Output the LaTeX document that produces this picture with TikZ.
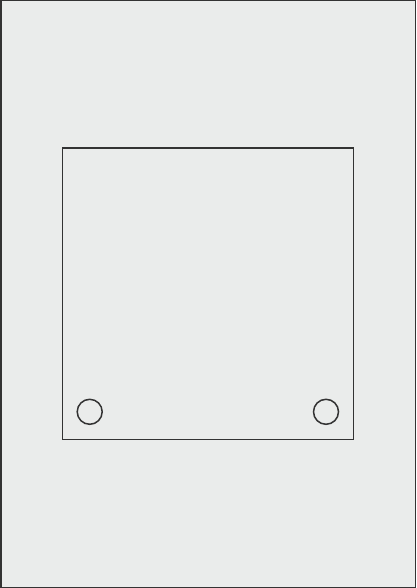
\documentclass[tikz,border=0pt]{standalone}
\usepackage{tikz}
\usetikzlibrary{positioning}
\definecolor{sheetgrey}{HTML}{EAECEB}
\definecolor{linegrey}{HTML}{333333}
\tikzstyle{sheet}=[draw=linegrey,fill=sheetgrey,line width=1.5pt]
\tikzstyle{panel}=[draw=linegrey,line width=1.5pt]
\tikzstyle{hole}=[circle,draw=linegrey,line width=1.5pt,minimum size=25pt,inner sep=0pt]

\begin{document}
\begin{tikzpicture}[x=1pt,y=-1pt]
    \useasboundingbox (0,0) rectangle (416,588);
    \path[sheet] (0.75,0.75) rectangle (415.25,587.25);

    \node[panel,minimum width=291pt,minimum height=291pt,inner sep=0pt] (panel) at (207.75,293.75) {};

    \foreach \pos/\name in {{(89.7,411.8)/holeL}, {(326,411.8)/holeR}}
        \node[hole] (\name) at \pos {};

\end{tikzpicture}
\end{document}
